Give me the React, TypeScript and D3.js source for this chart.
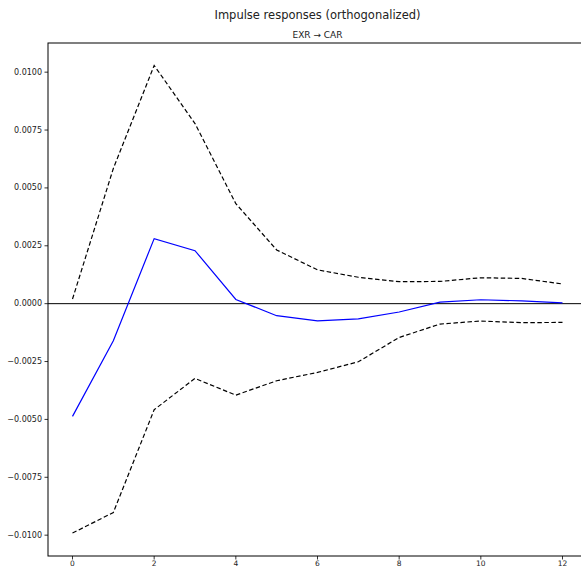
import React from "react";
import * as d3 from "d3";

const steps = [0, 1, 2, 3, 4, 5, 6, 7, 8, 9, 10, 11, 12];
const irf = [-0.00487, -0.0016, 0.00281, 0.00229, 0.00018, -0.00052, -0.00074, -0.00066, -0.00036, 0.00007, 0.00017, 0.00012, 0.00003];
const upper = [0.0002, 0.00584, 0.01029, 0.00778, 0.00432, 0.00232, 0.00146, 0.00114, 0.00095, 0.00096, 0.00112, 0.00109, 0.00085];
const lower = [-0.00991, -0.00902, -0.00458, -0.00323, -0.00395, -0.00333, -0.00297, -0.00251, -0.00146, -0.00088, -0.00075, -0.00082, -0.00081];
const xTicks = [0, 2, 4, 6, 8, 10, 12];
const yTicks = [-0.01, -0.0075, -0.005, -0.0025, 0, 0.0025, 0.005, 0.0075, 0.01];
const title = "Impulse responses (orthogonalized)";
const subtitle = "EXR \u2192 CAR";

const W = 581, H = 567;
const left = 48, right = 587, top = 43, bottom = 556;
const font = "DejaVu Sans, sans-serif";

export default function App() {
  const x = d3.scaleLinear().domain([-0.6, 12.6]).range([left, right]);
  const y = d3.scaleLinear().domain([-0.0109, 0.01126]).range([bottom, top]);
  const line = d3.line<number>().x((_, i) => x(steps[i])).y((d) => y(d));
  const fmt = (v: number) => {
    const s = d3.format(".4f")(Math.abs(v));
    return v < 0 ? "\u2212" + s : s;
  };
  return (
    <svg width={W} height={H} style={{ position: "absolute", left: 0, top: 0, background: "#fff" }} fontFamily={font}>
      <rect x={0} y={0} width={W} height={H} fill="#fff" />
      <text x={(left + right) / 2} y={19} textAnchor="middle" fontSize={11.5} fill="#222">{title}</text>
      <text x={(left + right) / 2} y={37.5} textAnchor="middle" fontSize={9} fill="#222">{subtitle}</text>
      <line x1={left} x2={right} y1={y(0)} y2={y(0)} stroke="#000" strokeWidth={1} />
      <path d={line(upper) || ""} fill="none" stroke="#000" strokeWidth={1.2} strokeDasharray="4.5,2.5" />
      <path d={line(lower) || ""} fill="none" stroke="#000" strokeWidth={1.2} strokeDasharray="4.5,2.5" />
      <path d={line(irf) || ""} fill="none" stroke="#0000ff" strokeWidth={1.2} />
      <rect x={left} y={top} width={right - left} height={bottom - top} fill="none" stroke="#000" strokeWidth={1} />
      {yTicks.map((t) => (
        <g key={t}>
          <line x1={left - 3.5} x2={left} y1={y(t)} y2={y(t)} stroke="#000" strokeWidth={0.8} />
          <text x={left - 6} y={y(t)} dy="0.32em" textAnchor="end" fontSize={8} fill="#222">{fmt(t)}</text>
        </g>
      ))}
      {xTicks.map((t) => (
        <g key={t}>
          <line x1={x(t)} x2={x(t)} y1={bottom} y2={bottom + 3.5} stroke="#000" strokeWidth={0.8} />
          <text x={x(t)} y={bottom + 10} textAnchor="middle" fontSize={7.5} fill="#222">{t}</text>
        </g>
      ))}
    </svg>
  );
}
